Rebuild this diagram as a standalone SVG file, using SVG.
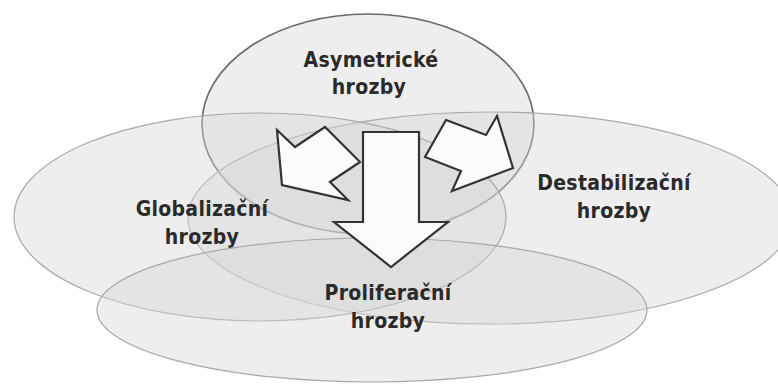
<svg xmlns="http://www.w3.org/2000/svg" width="778" height="385" viewBox="0 0 778 385">
  <style>
    .area { fill: #d6d6d6; fill-opacity: 0.42; stroke: #a8a8a8; stroke-width: 1.2; }
    .area.strong { stroke: #6a6a6a; stroke-width: 1.6; }
    .label { font-family: "DejaVu Sans Condensed", "DejaVu Sans", "Liberation Sans", sans-serif; font-stretch: condensed; font-weight: bold; font-size: 21px; letter-spacing: 0.3px; fill: #2a2a2a; text-anchor: middle; }
    .arrow { fill: #fbfbfb; stroke: #333333; stroke-width: 2.2; stroke-linejoin: miter; }
  </style>
  <rect width="778" height="385" fill="#ffffff"/>

  <!-- overlapping threat areas -->
  <g id="asymetricke">
    <ellipse class="area strong" cx="368" cy="124" rx="166" ry="110"/>
    <text class="label" x="371" y="67">Asymetrické</text>
    <text class="label" x="369" y="94">hrozby</text>
  </g>

  <g id="destabilizacni">
    <ellipse class="area" cx="490" cy="218" rx="302" ry="106"/>
    <text class="label" x="614" y="190">Destabilizační</text>
    <text class="label" x="614" y="218">hrozby</text>
  </g>

  <g id="globalizacni">
    <ellipse class="area" cx="260" cy="217" rx="246" ry="104"/>
    <text class="label" x="202" y="216">Globalizační</text>
    <text class="label" x="202" y="244">hrozby</text>
  </g>

  <g id="proliferacni">
    <ellipse class="area" cx="372" cy="310" rx="275" ry="72"/>
    <text class="label" x="388" y="300">Proliferační</text>
    <text class="label" x="388" y="328">hrozby</text>
  </g>

  <!-- block arrows -->
  <g id="connectors">
    <polygon class="arrow" points="277,130 295,147 325,127 360,162 330,182 348,200 282,185"/>
    <polygon class="arrow" points="446,120 486,135 497,116 513,168 452,191 461,171 425,157"/>
    <polygon class="arrow" points="363,132 419,132 419,222 448,222 391,267 334,222 363,222"/>
  </g>
</svg>
